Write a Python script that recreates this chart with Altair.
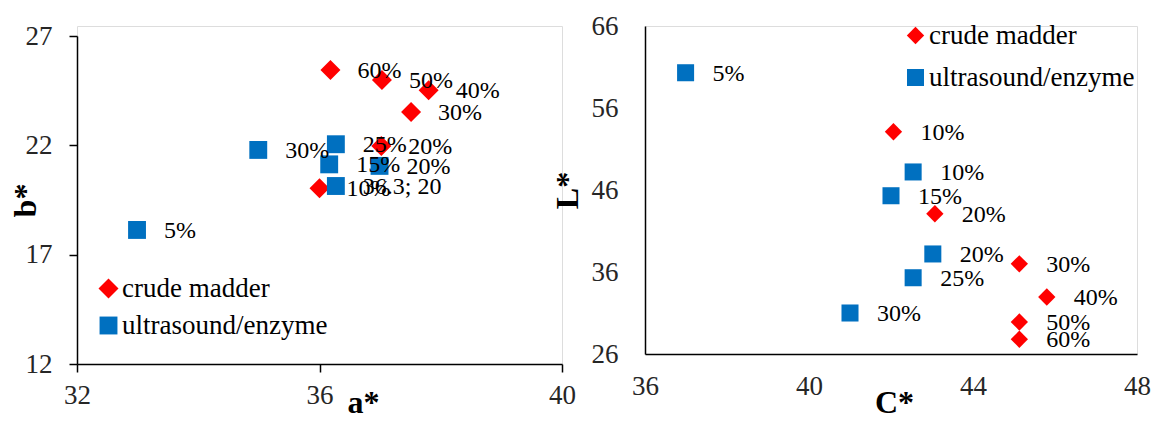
import altair as alt
import pandas as pd

FONT = "Liberation Serif"
series = ["crude madder", "ultrasound/enzyme"]
colors = ["#FF0000", "#0070C0"]
shapes = ["diamond", "square"]

# Left panel: a* vs b*
crude_a = [36.18, 37.03, 37.80, 37.51, 37.02, 36.00]
crude_b = [25.45, 24.99, 24.52, 23.53, 21.97, 20.04]
crude_ab_labels = ["60%", "50%", "40%", "30%", "20%", "10%"]
ue_a = [32.99, 34.99, 36.27, 36.16, 36.99, 36.27]
ue_b = [18.13, 21.79, 22.05, 21.13, 21.06, 20.14]
ue_ab_labels = ["5%", "30%", "25%", "15%", "20%", "36.3; 20"]

# Right panel: C* vs L*
crude_C = [42.06, 43.07, 45.13, 45.80, 45.13, 45.13]
crude_L = [53.1, 43.1, 37.0, 32.95, 29.9, 27.8]
crude_CL_labels = ["10%", "20%", "30%", "40%", "50%", "60%"]
ue_C = [36.99, 42.54, 42.00, 43.02, 42.54, 41.00]
ue_L = [60.3, 48.2, 45.3, 38.2, 35.3, 31.0]
ue_CL_labels = ["5%", "10%", "15%", "20%", "25%", "30%"]

left_ticks_x = [32, 36, 40]
left_ticks_y = [12, 17, 22, 27]
right_ticks_x = [36, 40, 44, 48]
right_ticks_y = [26, 36, 46, 56, 66]

df_left = pd.DataFrame({
    "x": crude_a + ue_a,
    "y": crude_b + ue_b,
    "label": crude_ab_labels + ue_ab_labels,
    "series": [series[0]] * len(crude_a) + [series[1]] * len(ue_a),
})
df_right = pd.DataFrame({
    "x": crude_C + ue_C,
    "y": crude_L + ue_L,
    "label": crude_CL_labels + ue_CL_labels,
    "series": [series[0]] * len(crude_C) + [series[1]] * len(ue_C),
})

color_scale = alt.Scale(domain=series, range=colors)
shape_scale = alt.Scale(domain=series, range=shapes)


def make_legend(lx, ly, row_pad):
    return alt.Legend(
        title=None, orient="none", legendX=lx, legendY=ly,
        symbolSize=250, symbolStrokeWidth=0, labelFont=FONT, labelFontSize=27,
        labelColor="#000000", rowPadding=row_pad, labelOffset=0, padding=0,
        labelLimit=0,
    )


def axis_common(**kw):
    base = dict(
        grid=False, domainColor="#000000", domainWidth=1.5, tickColor="#000000",
        tickWidth=1.5, labelFont=FONT, labelFontSize=27, labelColor="#262626",
        labelFlush=False, labelOverlap=False,
        titleFont=FONT, titleFontSize=32, titleFontWeight="bold", titleColor="#000000",
        titleAlign="center", titleBaseline="alphabetic",
    )
    base.update(kw)
    return alt.Axis(**base)


def panel(df, xdom, ydom, yrange, xaxis, yaxis, legend, sizes, w, h):
    base = alt.Chart(df).encode(
        x=alt.X("x:Q", scale=alt.Scale(domain=xdom, nice=False, zero=False), axis=xaxis),
        y=alt.Y("y:Q", scale=alt.Scale(domain=ydom, range=yrange, nice=False, zero=False),
                axis=yaxis),
    )
    pts = base.mark_point(filled=True, opacity=1).encode(
        color=alt.Color("series:N", scale=color_scale, legend=legend),
        shape=alt.Shape("series:N", scale=shape_scale, legend=legend),
        size=alt.Size("series:N", scale=alt.Scale(domain=series, range=sizes), legend=None),
    )
    txt = base.mark_text(align="left", baseline="middle", dx=27, dy=1, font=FONT,
                         fontSize=24, color="#000000").encode(text="label:N")
    return alt.layer(pts, txt).properties(width=w, height=h)


# left panel: plot area sits 10px lower than the right one (range starts at 10)
left = panel(
    df_left, [32, 40], [12, 27], [338, 10],
    axis_common(values=left_ticks_x, title="a*", tickSize=8, labelPadding=10,
                titleX=286, titleY=48),
    axis_common(values=left_ticks_y, title="b*", tickSize=8, labelPadding=17,
                labelBaseline="middle", titleAngle=270, titleX=-42, titleY=174),
    make_legend(18, 249, 9),
    [400, 320], 485, 338,
)

right = panel(
    df_right, [36, 48], [26, 66], [328, 0],
    axis_common(values=right_ticks_x, title="C*", ticks=False, tickSize=0, labelPadding=19,
                titleX=249, titleY=58),
    axis_common(values=right_ticks_y, title="L*", ticks=False, tickSize=0, labelPadding=27,
                labelBaseline="middle", titleAngle=270, titleX=-68, titleY=164),
    make_legend(257, -4, 14),
    [300, 290], 492, 328,
)

chart = alt.hconcat(left, right, spacing=83, bounds="flush").resolve_scale(
    color="independent", shape="independent", size="independent"
).resolve_legend(color="independent", shape="independent").properties(
    padding={"left": 0, "top": 3, "right": 0, "bottom": -1}
).configure_view(stroke=None).configure(background="white")

chart.save("out.html", embed_options={"renderer": "svg", "actions": False})
